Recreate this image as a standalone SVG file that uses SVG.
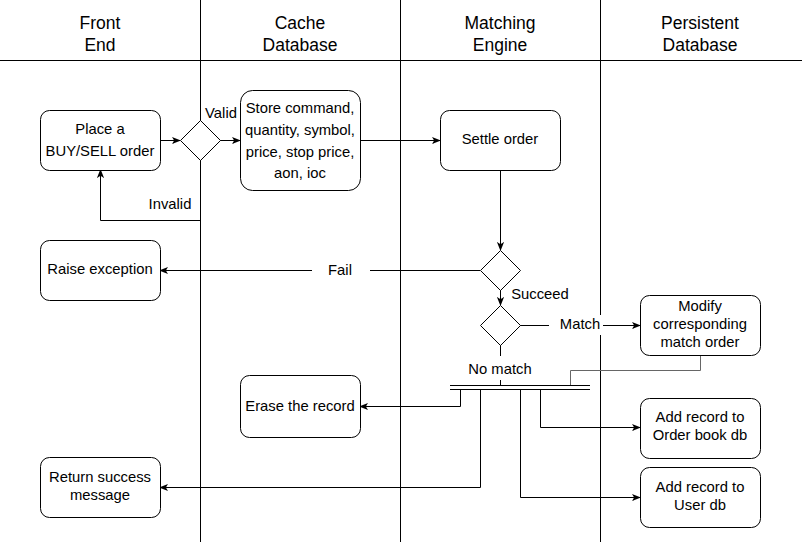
<svg xmlns="http://www.w3.org/2000/svg" width="802" height="542" viewBox="0 0 802 542">
<style>
.lane{stroke:#000;stroke-width:1;fill:none}
.node{fill:#fff;stroke:#000;stroke-width:1}
.t{font-family:"Liberation Sans",Arial,sans-serif;font-size:14.8px;fill:#000;text-anchor:middle}
.h{font-family:"Liberation Sans",Arial,sans-serif;font-size:17.5px;fill:#000;text-anchor:middle}
.e{stroke:#000;stroke-width:1;fill:none}
.ea{stroke:#000;stroke-width:1;fill:none;marker-end:url(#arr)}
.bg{fill:#fff;stroke:none}
</style>
<defs>
<marker id="arr" viewBox="0 0 10 10" refX="9" refY="5" markerWidth="9" markerHeight="9" markerUnits="userSpaceOnUse" orient="auto">
<path d="M0,1 L10,5 L0,9 L2.5,5 z" fill="#000"/>
</marker>
</defs>
<rect x="0" y="0" width="802" height="542" fill="#fff"/>
<g id="lanes">
<line class="lane" x1="0" y1="60.5" x2="802" y2="60.5"/>
<line class="lane" x1="200.5" y1="0" x2="200.5" y2="542"/>
<line class="lane" x1="400.5" y1="0" x2="400.5" y2="542"/>
<line class="lane" x1="600.5" y1="0" x2="600.5" y2="542"/>
<text class="h" x="100" y="29">Front</text><text class="h" x="100" y="51">End</text>
<text class="h" x="300" y="29">Cache</text><text class="h" x="300" y="51">Database</text>
<text class="h" x="500" y="29">Matching</text><text class="h" x="500" y="51">Engine</text>
<text class="h" x="700" y="29">Persistent</text><text class="h" x="700" y="51">Database</text>
</g>
<g id="connectors">
<line class="ea" x1="160" y1="140.5" x2="180" y2="140.5"/>
<line class="ea" x1="220" y1="140.5" x2="240" y2="140.5"/>
<polyline class="ea" points="200.5,160 200.5,220.5 100.5,220.5 100.5,170"/>
<line class="ea" x1="360" y1="140.5" x2="440" y2="140.5"/>
<line class="ea" x1="500.5" y1="170" x2="500.5" y2="250"/>
<line class="ea" x1="480" y1="270.5" x2="160" y2="270.5"/>
<line class="ea" x1="500.5" y1="290" x2="500.5" y2="305"/>
<line class="ea" x1="520" y1="325.5" x2="640" y2="325.5"/>
<line class="e" x1="500.5" y1="345" x2="500.5" y2="385"/>
<polyline class="e" style="stroke:#666" points="700.5,355 700.5,370.5 570.5,370.5 570.5,385"/>
<line class="e" x1="450" y1="385.5" x2="590" y2="385.5"/>
<line class="e" x1="450" y1="389.5" x2="590" y2="389.5"/>
<polyline class="ea" points="460.5,389 460.5,406.5 360,406.5"/>
<polyline class="ea" points="480.5,389 480.5,487.5 160,487.5"/>
<polyline class="ea" points="540.5,389 540.5,427.5 640,427.5"/>
<polyline class="ea" points="520.5,389 520.5,497.5 640,497.5"/>
<rect class="bg" x="312" y="260" width="58" height="20"/>
<text class="t" x="340" y="275">Fail</text>
<rect class="bg" x="549" y="315" width="54" height="20"/>
<text class="t" x="580" y="329">Match</text>
<rect class="bg" x="462" y="356" width="76" height="24"/>
<text class="t" x="500" y="374">No match</text>
<text class="t" x="221" y="118">Valid</text>
<text class="t" x="170" y="209">Invalid</text>
<text class="t" x="540" y="299">Succeed</text>
</g>
<g id="place-order"><rect class="node" x="40.5" y="110.5" width="120" height="60" rx="9"/><text class="t" x="100" y="134">Place a</text><text class="t" x="100" y="156">BUY/SELL order</text></g>
<g id="valid-check"><polygon class="node" points="200.5,120.5 220.5,140.5 200.5,160.5 180.5,140.5"/></g>
<g id="store-command"><rect class="node" x="240.5" y="90.5" width="120" height="100" rx="12"/>
<text class="t" x="300" y="113">Store command,</text><text class="t" x="300" y="135">quantity, symbol,</text><text class="t" x="300" y="157">price, stop price,</text><text class="t" x="300" y="178">aon, ioc</text></g>
<g id="settle-order"><rect class="node" x="440.5" y="110.5" width="120" height="60" rx="9"/><text class="t" x="500" y="144">Settle order</text></g>
<g id="settle-check"><polygon class="node" points="500.5,250.5 520.5,270.5 500.5,290.5 480.5,270.5"/></g>
<g id="raise-exception"><rect class="node" x="40.5" y="240.5" width="120" height="60" rx="9"/><text class="t" x="100" y="274">Raise exception</text></g>
<g id="match-check"><polygon class="node" points="500.5,305.5 520.5,325.5 500.5,345.5 480.5,325.5"/></g>
<g id="modify-match"><rect class="node" x="640.5" y="295.5" width="120" height="60" rx="9"/><text class="t" x="700" y="311">Modify</text><text class="t" x="700" y="329">corresponding</text><text class="t" x="700" y="347">match order</text></g>
<g id="fork"><line class="e" x1="500.5" y1="382" x2="500.5" y2="386"/></g>
<g id="erase-record"><rect class="node" x="240.5" y="375.5" width="120" height="62" rx="9"/><text class="t" x="300" y="411">Erase the record</text></g>
<g id="return-success"><rect class="node" x="40.5" y="457.5" width="120" height="60" rx="9"/><text class="t" x="100" y="482">Return success</text><text class="t" x="100" y="500">message</text></g>
<g id="add-orderbook"><rect class="node" x="640.5" y="398.5" width="120" height="60" rx="9"/><text class="t" x="700" y="422">Add record to</text><text class="t" x="700" y="440">Order book db</text></g>
<g id="add-userdb"><rect class="node" x="640.5" y="467.5" width="120" height="60" rx="9"/><text class="t" x="700" y="492">Add record to</text><text class="t" x="700" y="510">User db</text></g>
</svg>
